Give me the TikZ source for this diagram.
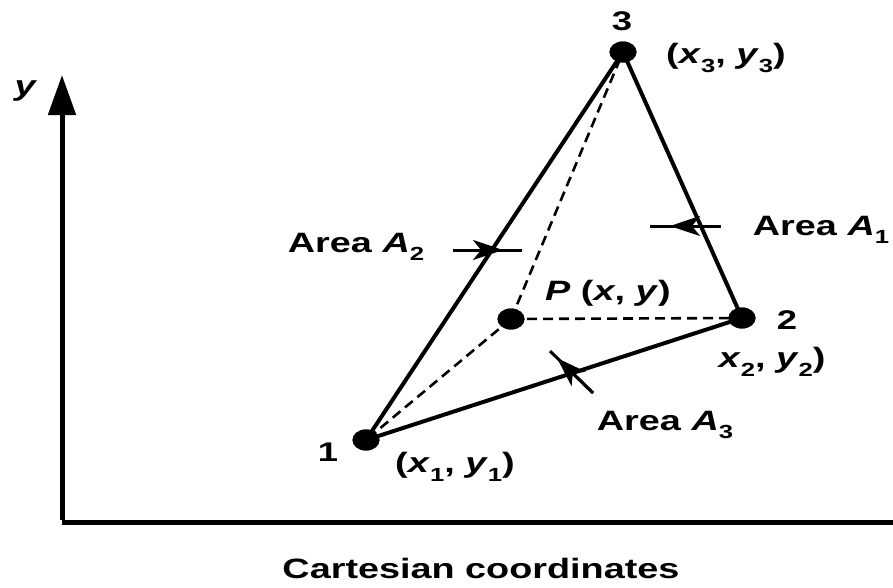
\documentclass[tikz,border=0pt]{standalone}
\usepackage{fontspec}
\setmainfont{Liberation Sans}
\usetikzlibrary{arrows.meta,shapes.geometric}
\newcommand\stretchtxt[1]{\scalebox{1.35}[1]{#1}}
\newcommand\subs[1]{\raisebox{-0.3em}{\fontsize{19}{20}\selectfont #1}}
\tikzset{
  dot/.style={ellipse,fill=black,draw=none,minimum width=27pt,minimum height=21pt,inner sep=0pt},
  edge/.style={line width=4pt,line cap=round},
  dline/.style={line width=2.6pt,dash pattern=on 10pt off 6pt},
  axis/.style={line width=5pt},
  lbl/.style={font=\bfseries\fontsize{28}{32}\selectfont,inner sep=0pt},
  num/.style={font=\bfseries\fontsize{27}{30}\selectfont,inner sep=0pt},
  pin/.style={line width=3pt},
  tip/.style={-{Stealth[length=30pt,width=20pt,inset=8pt]},line width=3pt}
}
\begin{document}
\begin{tikzpicture}[x=1pt,y=-1pt]
\useasboundingbox (0,0) rectangle (893,587);
\fill[white] (0,0) rectangle (893,587);
% axes
\coordinate (o) at (62,522);
\coordinate (ytop) at (62,75);
\coordinate (xend) at (893,522);
\draw[axis] (o) -- (xend);
\draw[axis,-{Triangle[length=40pt,width=27pt]}] ([yshift=2pt]o) -- (ytop);
\node[lbl] (ylab) at (26,91) {\stretchtxt{\textit{y}}};
% points
\node[dot] (p1) at (366,440) {};
\node[dot] (p2) at (742,318) {};
\node[dot] (p3) at (623,52) {};
\node[dot] (pp) at (511,319) {};
% dashed
\draw[dline] (pp.center) -- (p1.center);
\draw[dline] (pp.center) -- (p2.center);
\draw[dline] (pp.center) -- (p3.center);
% triangle
\draw[edge] (p1.center) -- (p3.center);
\draw[edge] (p3.center) -- (p2.center);
\draw[edge] (p2.center) -- (p1.center);
\node[dot] at (p1) {};
\node[dot] at (p2) {};
\node[dot] at (p3) {};
\node[dot] at (pp) {};
% area arrows
\coordinate (a2s) at (453,250);
\coordinate (a2t) at (503,250);
\coordinate (a2e) at (522,250);
\draw[pin] (a2s) -- (a2e);
\draw[tip] (a2s) -- (a2t);
\coordinate (a1s) at (721,226);
\coordinate (a1t) at (670,226);
\coordinate (a1e) at (650,226);
\draw[pin] (a1s) -- (a1e);
\draw[tip] (a1s) -- (a1t);
\coordinate (a3s) at (593,393);
\coordinate (a3t) at (557,358);
\coordinate (a3e) at (550,351);
\draw[pin] (a3s) -- (a3e);
\draw[tip] (a3s) -- (a3t);
% labels
\node[num] (n3) at (622,21) {\stretchtxt{3}};
\node[num] (n2) at (787,320) {\stretchtxt{2}};
\node[num] (n1) at (328,452) {\stretchtxt{1}};
\node[lbl] (c3) at (726,58) {\stretchtxt{(\textit{x}\subs{3}, \textit{y}\subs{3})}};
\node[lbl] (c2) at (772,362) {\stretchtxt{\textit{x}\subs{2}, \textit{y}\subs{2})}};
\node[lbl] (c1) at (455,467) {\stretchtxt{(\textit{x}\subs{1}, \textit{y}\subs{1})}};
\node[lbl] (pl) at (608,293) {\stretchtxt{\textit{P} (\textit{x}, \textit{y})}};
\node[lbl] (l1) at (821,230) {\stretchtxt{Area \textit{A}\subs{1}}};
\node[lbl] (l2) at (356,247) {\stretchtxt{Area \textit{A}\subs{2}}};
\node[lbl] (l3) at (665,425) {\stretchtxt{Area \textit{A}\subs{3}}};
\node[lbl] (cap) at (481,568) {\stretchtxt{Cartesian coordinates}};
\end{tikzpicture}
\end{document}
